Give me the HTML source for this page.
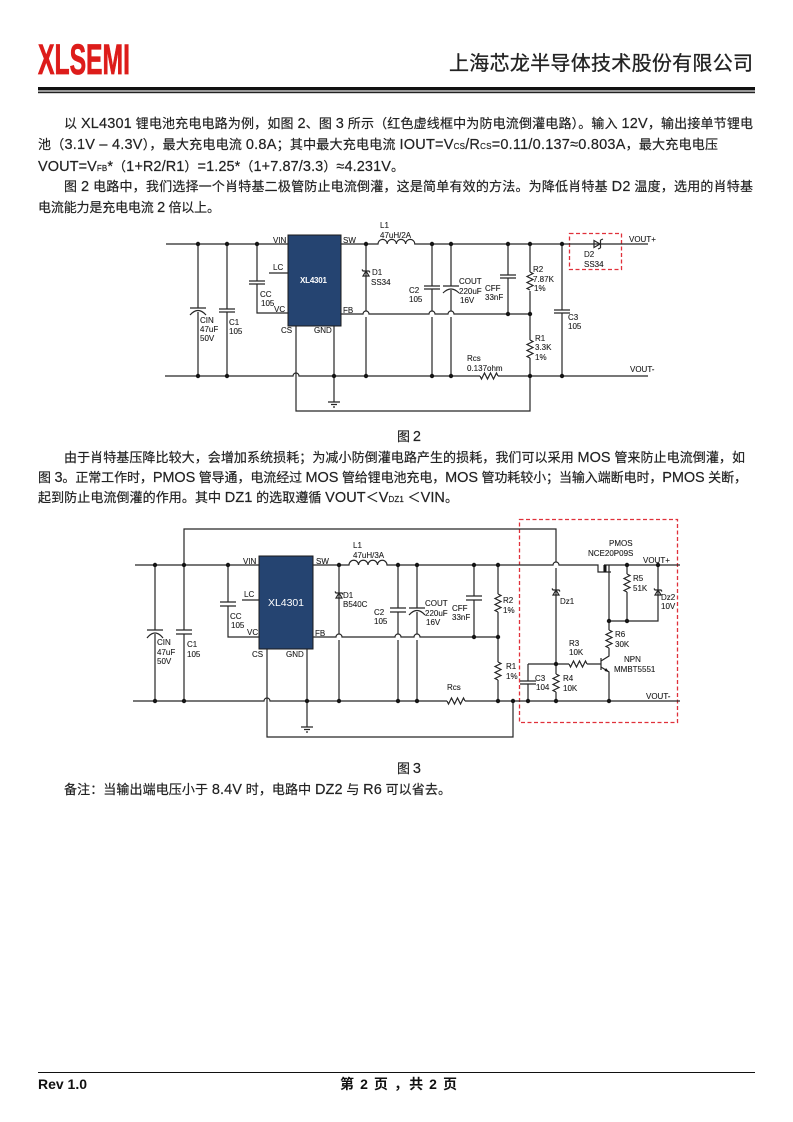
<!DOCTYPE html>
<html><head><meta charset="utf-8">
<style>
html,body{margin:0;padding:0;background:#fff}
svg{display:block}
.b{font-family:"Liberation Sans","Noto Sans CJK SC",sans-serif;font-size:13px;fill:#222;stroke:#222;stroke-width:.18}
.a{font-size:14.500px}
.s{font-size:8px}
.l text,.l{font-family:"Liberation Sans",sans-serif;font-size:8px;fill:#1e1e1e;stroke:#1e1e1e;stroke-width:.12}
.w{fill:none;stroke:#262626;stroke-width:1.2}
.d{fill:#151515;stroke:none}
.rd{fill:none;stroke:#e0303a;stroke-width:1.3;stroke-dasharray:4 2.500}
</style></head><body>
<svg width="793" height="1122" viewBox="0 0 793 1122" xmlns="http://www.w3.org/2000/svg">
<defs>
<circle id="o" r="2.200" class="d"/>
<path id="zv" class="w" d="M0 0l3 1.500l-6 3l6 3l-6 3l6 3l-6 3l3 1.500"/>
<path id="zh" class="w" d="M0 0l1.500 3l3-6l3 6l3-6l3 6l3-6l1.500 3"/>
<path id="dv" class="w" d="M0-2L-3 3H3ZM-4-3.500L-3-2H3L4-.5"/>
<path id="gnd" class="w" d="M-6 0H6M-3 2.500H3M-1 5H1"/>
</defs>
<rect width="793" height="1122" fill="#fff"/>

<!-- header -->
<text x="38" y="74" textLength="92" lengthAdjust="spacingAndGlyphs" font-family="Liberation Sans" font-weight="700" font-size="43" fill="#dd1c1a" stroke="#dd1c1a" stroke-width=".8">XLSEMI</text>
<text x="449" y="70" textLength="304" font-family="Noto Sans CJK SC,sans-serif" font-size="20" fill="#222" stroke="#222" stroke-width=".3">上海芯龙半导体技术股份有限公司</text>
<rect x="38" y="87" width="717" height="3" fill="#111"/>
<rect x="38" y="90" width="717" height="2" fill="#999"/>
<rect x="38" y="92" width="717" height="1.200" fill="#222"/>

<!-- body -->
<text class="b" x="64" y="128" textLength="689">以 <tspan class="a">XL4301</tspan> 锂电池充电电路为例，如图 <tspan class="a">2</tspan>、图 <tspan class="a">3</tspan> 所示（红色虚线框中为防电流倒灌电路）。输入 <tspan class="a">12V</tspan>，输出接单节锂电</text>
<text class="b" x="38" y="149" textLength="680">池（<tspan class="a">3.1V – 4.3V</tspan>），最大充电电流 <tspan class="a">0.8A</tspan>；其中最大充电电流 <tspan class="a">IOUT=V</tspan><tspan class="s">CS</tspan><tspan class="a">/R</tspan><tspan class="s">CS</tspan><tspan class="a">=0.11/0.137≈0.803A</tspan>，最大充电电压</text>
<text class="b" x="38" y="171" textLength="366"><tspan class="a">VOUT=V</tspan><tspan class="s">FB</tspan><tspan class="a">*</tspan>（<tspan class="a">1+R2/R1</tspan>）<tspan class="a">=1.25*</tspan>（<tspan class="a">1+7.87/3.3</tspan>）<tspan class="a">≈4.231V</tspan>。</text>
<text class="b" x="64" y="191" textLength="689">图 <tspan class="a">2</tspan> 电路中，我们选择一个肖特基二极管防止电流倒灌，这是简单有效的方法。为降低肖特基 <tspan class="a">D2</tspan> 温度，选用的肖特基</text>
<text class="b" x="38" y="212" textLength="182">电流能力是充电电流 <tspan class="a">2</tspan> 倍以上。</text>
<text class="b" x="397" y="441" textLength="24">图 <tspan class="a">2</tspan></text>
<text class="b" x="64" y="462" textLength="681">由于肖特基压降比较大，会增加系统损耗；为减小防倒灌电路产生的损耗，我们可以采用 <tspan class="a">MOS</tspan> 管来防止电流倒灌，如</text>
<text class="b" x="38" y="482" textLength="709">图 <tspan class="a">3</tspan>。正常工作时，<tspan class="a">PMOS</tspan> 管导通，电流经过 <tspan class="a">MOS</tspan> 管给锂电池充电，<tspan class="a">MOS</tspan> 管功耗较小；当输入端断电时，<tspan class="a">PMOS</tspan> 关断，</text>
<text class="b" x="38" y="502" textLength="420">起到防止电流倒灌的作用。其中 <tspan class="a">DZ1</tspan> 的选取遵循 <tspan class="a">VOUT</tspan>＜<tspan class="a">V</tspan><tspan class="s">DZ1</tspan> ＜<tspan class="a">VIN</tspan>。</text>
<text class="b" x="397" y="773" textLength="24">图 <tspan class="a">3</tspan></text>
<text class="b" x="64" y="794" textLength="387">备注：当输出端电压小于 <tspan class="a">8.4V</tspan> 时，电路中 <tspan class="a">DZ2</tspan> 与 <tspan class="a">R6</tspan> 可以省去。</text>

<!-- footer -->
<rect x="38" y="1072" width="717" height="1" fill="#111"/>
<text x="38" y="1089" textLength="49" font-family="Liberation Sans" font-weight="700" font-size="14" fill="#111">Rev 1.0</text>
<text x="340" y="1089" textLength="117" font-family="Liberation Sans,Noto Sans CJK SC,sans-serif" font-weight="700" font-size="14" fill="#111">第 2 页 ，共 2 页</text>

<!-- diagram 1 -->
<rect x="288" y="235" width="53" height="91" fill="#254471" stroke="#1a1a1a"/>
<rect x="569.500" y="233.500" width="52" height="36" class="rd"/>
<path class="w" d="M166 244H288M341 244H378a4.600 4.600 0 0 1 9.200 0a4.600 4.600 0 0 1 9.200 0a4.600 4.600 0 0 1 9.200 0a4.600 4.600 0 0 1 9.200 0H648"/>
<path class="w" d="M165 376H293a3 3 0 0 1 6 0H480M498 376H648"/>
<path class="w" d="M341 314H363a3 3 0 0 1 6 0H429a3 3 0 0 1 6 0H448a3 3 0 0 1 6 0H530"/>
<path class="w" d="M198 244V308M198 312V376M190 308H206M190 315Q198 306 206 315"/>
<path class="w" d="M227 244V309M227 312V376M219 309H235M219 312H235"/>
<path class="w" d="M257 244V281M257 284V313H288M249 281H265M249 284H265M269 273H288"/>
<path class="w" d="M366 244V311M366 317V376"/>
<path class="w" d="M432 244V286M432 289V311M432 317V376M424 286H440M424 289H440"/>
<path class="w" d="M451 244V286M451 290V311M451 317V376M443 286H459M443 293Q451 285 459 293"/>
<path class="w" d="M508 244V275M508 278V314M500 275H516M500 278H516"/>
<path class="w" d="M530 244V272M530 291V340M530 358V411H296V326"/>
<path class="w" d="M562 244V310M562 313V376M554 310H570M554 313H570"/>
<path class="w" d="M334 326V402"/>
<use href="#gnd" x="334" y="402"/>
<use href="#zv" x="530" y="272"/><use href="#zv" x="530" y="340"/>
<use href="#zh" x="480" y="376"/>
<use href="#dv" x="366" y="273"/>
<path class="w" d="M594 240.500V247.500L600 244ZM600.500 240V248M600.500 240L603 239M600.500 248L598 249" fill="#fff"/>
<g>
<use href="#o" x="198" y="244"/><use href="#o" x="227" y="244"/><use href="#o" x="257" y="244"/><use href="#o" x="366" y="244"/><use href="#o" x="432" y="244"/><use href="#o" x="451" y="244"/><use href="#o" x="508" y="244"/><use href="#o" x="530" y="244"/><use href="#o" x="562" y="244"/>
<use href="#o" x="198" y="376"/><use href="#o" x="227" y="376"/><use href="#o" x="334" y="376"/><use href="#o" x="366" y="376"/><use href="#o" x="432" y="376"/><use href="#o" x="451" y="376"/><use href="#o" x="530" y="376"/><use href="#o" x="562" y="376"/>
<use href="#o" x="508" y="314"/><use href="#o" x="530" y="314"/>
</g>
<g class="l">
<text x="273" y="243">VIN</text><text x="273" y="270">LC</text><text x="274" y="312">VC</text><text x="281" y="333">CS</text><text x="314" y="333">GND</text><text x="343" y="243">SW</text><text x="343" y="313">FB</text>
<text x="300" y="283" style="fill:#fff;stroke:none;font-weight:700" textLength="27">XL4301</text>
<text x="380" y="228">L1</text><text x="380" y="238">47uH/2A</text><text x="372" y="275">D1</text><text x="371" y="285">SS34</text>
<text x="260" y="297">CC</text><text x="261" y="306">105</text><text x="200" y="323">CIN</text><text x="200" y="332">47uF</text><text x="200" y="341">50V</text><text x="229" y="325">C1</text><text x="229" y="334">105</text>
<text x="409" y="293">C2</text><text x="409" y="302">105</text><text x="459" y="284">COUT</text><text x="459" y="294">220uF</text><text x="460" y="303">16V</text><text x="485" y="291">CFF</text><text x="485" y="300">33nF</text>
<text x="533" y="272">R2</text><text x="533" y="282">7.87K</text><text x="534" y="291">1%</text><text x="535" y="341">R1</text><text x="535" y="350">3.3K</text><text x="535" y="360">1%</text>
<text x="568" y="320">C3</text><text x="568" y="329">105</text><text x="467" y="361">Rcs</text><text x="467" y="371">0.137ohm</text><text x="629" y="242">VOUT+</text><text x="630" y="372">VOUT-</text><text x="584" y="257">D2</text><text x="584" y="267">SS34</text>
</g>

<!-- diagram 2 -->
<rect x="259" y="556" width="54" height="93" fill="#254471" stroke="#1a1a1a"/>
<rect x="519.500" y="519.500" width="158" height="203" class="rd"/>
<path class="w" d="M135 565H259M313 565H349a4.750 4.750 0 0 1 9.500 0a4.750 4.750 0 0 1 9.500 0a4.750 4.750 0 0 1 9.500 0a4.750 4.750 0 0 1 9.500 0H553a3 3 0 0 1 6 0H598V572H611M604 572V565M604 565H680"/>
<path d="M604 565h2.500v7h-2.500z" class="d"/>
<path class="w" d="M133 701H264a3 3 0 0 1 6 0H447M465 701H680"/>
<path class="w" d="M313 637H336a3 3 0 0 1 6 0H395a3 3 0 0 1 6 0H414a3 3 0 0 1 6 0H498"/>
<path class="w" d="M184 565V529H556V562M556 568V664"/>
<path class="w" d="M155 565V630M155 634V701M147 630H163M147 638Q155 628 163 638"/>
<path class="w" d="M184 565V630M184 634V701M176 630H192M176 634H192"/>
<path class="w" d="M228 565V602M228 606V637H259M220 602H236M220 606H236M242 600H259"/>
<path class="w" d="M339 565V634M339 640V701"/>
<path class="w" d="M398 565V608M398 612V634M398 640V701M390 608H406M390 612H406"/>
<path class="w" d="M417 565V608M417 612V634M417 640V701M409 608H425M409 615Q417 606 425 615"/>
<path class="w" d="M474 565V596M474 600V637M466 596H482M466 600H482"/>
<path class="w" d="M498 565V594M498 612V662M498 680V701"/>
<path class="w" d="M267 649V737H513V701"/>
<path class="w" d="M307 649V727"/>
<use href="#gnd" x="307" y="727"/>
<use href="#zv" x="498" y="594"/><use href="#zv" x="498" y="662"/><use href="#zh" x="447" y="701"/>
<use href="#dv" x="339" y="595"/><use href="#dv" x="556" y="592"/><use href="#dv" x="658" y="592"/>
<path class="w" d="M609 565V630M609 648V656L601 661M601 658V670M601 667L609 672V701"/>
<path class="d" d="M609 672L604.500 671L606 668Z"/>
<use href="#zv" x="609" y="630"/>
<path class="w" d="M627 565V574M627 592V621M609 621H658V565"/>
<use href="#zv" x="627" y="574"/>
<path class="w" d="M528 664H569M587 664H601M528 664V681M528 684V701M520 681H536M520 684H536"/>
<use href="#zh" x="569" y="664"/>
<path class="w" d="M556 664V674M556 692V701"/>
<use href="#zv" x="556" y="674"/>
<g>
<use href="#o" x="155" y="565"/><use href="#o" x="184" y="565"/><use href="#o" x="228" y="565"/><use href="#o" x="339" y="565"/><use href="#o" x="398" y="565"/><use href="#o" x="417" y="565"/><use href="#o" x="474" y="565"/><use href="#o" x="498" y="565"/><use href="#o" x="627" y="565"/><use href="#o" x="658" y="565"/>
<use href="#o" x="155" y="701"/><use href="#o" x="184" y="701"/><use href="#o" x="307" y="701"/><use href="#o" x="339" y="701"/><use href="#o" x="398" y="701"/><use href="#o" x="417" y="701"/><use href="#o" x="498" y="701"/><use href="#o" x="513" y="701"/><use href="#o" x="528" y="701"/><use href="#o" x="556" y="701"/><use href="#o" x="609" y="701"/>
<use href="#o" x="474" y="637"/><use href="#o" x="498" y="637"/><use href="#o" x="556" y="664"/><use href="#o" x="609" y="621"/><use href="#o" x="627" y="621"/>
</g>
<g class="l">
<text x="243" y="564">VIN</text><text x="316" y="564">SW</text><text x="244" y="597">LC</text><text x="247" y="635">VC</text><text x="315" y="636">FB</text><text x="252" y="657">CS</text><text x="286" y="657">GND</text>
<text x="268" y="606" style="fill:#fff;stroke:none;font-size:10.500px" textLength="36">XL4301</text>
<text x="353" y="548">L1</text><text x="353" y="558">47uH/3A</text><text x="343" y="598">D1</text><text x="343" y="607">B540C</text>
<text x="230" y="619">CC</text><text x="231" y="628">105</text><text x="157" y="645">CIN</text><text x="157" y="655">47uF</text><text x="157" y="664">50V</text><text x="187" y="647">C1</text><text x="187" y="657">105</text><text x="374" y="615">C2</text><text x="374" y="624">105</text>
<text x="425" y="606">COUT</text><text x="425" y="616">220uF</text><text x="426" y="625">16V</text><text x="452" y="611">CFF</text><text x="452" y="620">33nF</text>
<text x="503" y="603">R2</text><text x="503" y="613">1%</text><text x="506" y="669">R1</text><text x="506" y="679">1%</text><text x="447" y="690">Rcs</text>
<text x="560" y="604">Dz1</text><text x="609" y="546">PMOS</text><text x="588" y="556">NCE20P09S</text><text x="643" y="563">VOUT+</text><text x="633" y="581">R5</text><text x="633" y="591">51K</text><text x="661" y="600">Dz2</text><text x="661" y="609">10V</text>
<text x="615" y="637">R6</text><text x="615" y="647">30K</text><text x="569" y="646">R3</text><text x="569" y="655">10K</text><text x="624" y="662">NPN</text><text x="614" y="672">MMBT5551</text>
<text x="535" y="681">C3</text><text x="536" y="690">104</text><text x="563" y="681">R4</text><text x="563" y="691">10K</text><text x="646" y="699">VOUT-</text>
</g>
</svg>
</body></html>
